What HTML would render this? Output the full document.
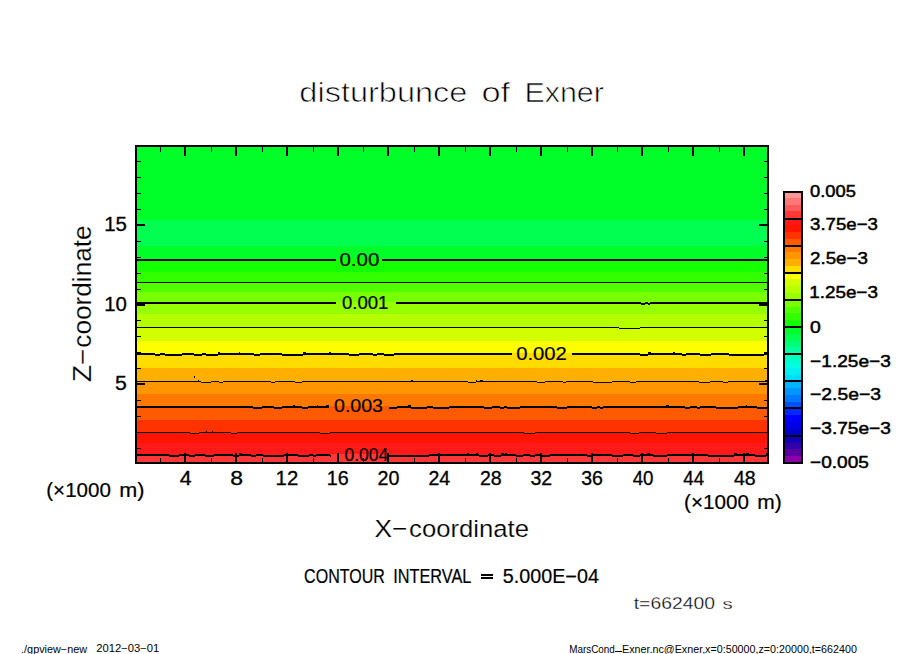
<!DOCTYPE html>
<html><head><meta charset="utf-8"><style>
html,body{margin:0;padding:0;background:#fff;}
svg{display:block;}
text{font-family:"Liberation Sans", sans-serif;fill:#000;}
</style></head><body>
<svg width="904" height="654" viewBox="0 0 904 654">
<rect width="904" height="654" fill="#fff"/>
<g shape-rendering="crispEdges">
<rect x="137" y="147" width="630" height="73" fill="#00ff28"/>
<rect x="137" y="220" width="630" height="26" fill="#00ff50"/>
<rect x="137" y="246" width="630" height="13" fill="#00ff28"/>
<rect x="137" y="259" width="630" height="13" fill="#14ff00"/>
<rect x="137" y="272" width="630" height="10" fill="#32ff00"/>
<rect x="137" y="282" width="630" height="10" fill="#50ff00"/>
<rect x="137" y="292" width="630" height="10" fill="#78ff00"/>
<rect x="137" y="302" width="630" height="12" fill="#96ff00"/>
<rect x="137" y="314" width="630" height="13" fill="#b4ff00"/>
<rect x="137" y="327" width="630" height="14" fill="#d2ff00"/>
<rect x="137" y="341" width="630" height="12" fill="#ffff00"/>
<rect x="137" y="353" width="630" height="15" fill="#ffdc00"/>
<rect x="137" y="368" width="630" height="13" fill="#ffaf00"/>
<rect x="137" y="381" width="630" height="13" fill="#ff9600"/>
<rect x="137" y="394" width="630" height="12" fill="#ff7800"/>
<rect x="137" y="406" width="630" height="14" fill="#ff5a00"/>
<rect x="137" y="420" width="630" height="12" fill="#ff3200"/>
<rect x="137" y="432" width="630" height="11" fill="#ff1400"/>
<rect x="137" y="443" width="630" height="11" fill="#ff1919"/>
<rect x="137" y="454" width="630" height="8" fill="#ff3737"/>
<rect x="137" y="259" width="199" height="2" fill="#000"/>
<rect x="382" y="259" width="385" height="2" fill="#000"/>
<rect x="137" y="282" width="630" height="1" fill="#000"/>
<rect x="137" y="302" width="199" height="2" fill="#000"/>
<rect x="396" y="302" width="371" height="2" fill="#000"/>
<rect x="641" y="302" width="4" height="1" fill="#78ff00"/>
<rect x="641" y="304" width="4" height="1" fill="#000"/>
<rect x="648" y="302" width="2" height="1" fill="#78ff00"/>
<rect x="648" y="304" width="2" height="1" fill="#000"/>
<rect x="137" y="327" width="630" height="1" fill="#000"/>
<rect x="619" y="327" width="6" height="1" fill="#b4ff00"/>
<rect x="619" y="328" width="6" height="1" fill="#000"/>
<rect x="625" y="327" width="9" height="1" fill="#b4ff00"/>
<rect x="625" y="328" width="9" height="1" fill="#000"/>
<rect x="634" y="327" width="6" height="1" fill="#b4ff00"/>
<rect x="634" y="328" width="6" height="1" fill="#000"/>
<rect x="137" y="353" width="375" height="2" fill="#000"/>
<rect x="155" y="353" width="5" height="1" fill="#ffff00"/>
<rect x="155" y="355" width="5" height="1" fill="#000"/>
<rect x="165" y="353" width="12" height="1" fill="#ffff00"/>
<rect x="165" y="355" width="12" height="1" fill="#000"/>
<rect x="177" y="353" width="5" height="1" fill="#ffff00"/>
<rect x="177" y="355" width="5" height="1" fill="#000"/>
<rect x="194" y="353" width="8" height="1" fill="#ffff00"/>
<rect x="194" y="355" width="8" height="1" fill="#000"/>
<rect x="206" y="353" width="12" height="1" fill="#ffff00"/>
<rect x="206" y="355" width="12" height="1" fill="#000"/>
<rect x="218" y="352" width="2" height="1" fill="#000"/>
<rect x="239" y="352" width="1" height="1" fill="#000"/>
<rect x="254" y="353" width="6" height="1" fill="#ffff00"/>
<rect x="254" y="355" width="6" height="1" fill="#000"/>
<rect x="282" y="353" width="4" height="1" fill="#ffff00"/>
<rect x="282" y="355" width="4" height="1" fill="#000"/>
<rect x="286" y="353" width="9" height="1" fill="#ffff00"/>
<rect x="286" y="355" width="9" height="1" fill="#000"/>
<rect x="295" y="353" width="8" height="1" fill="#ffff00"/>
<rect x="295" y="355" width="8" height="1" fill="#000"/>
<rect x="303" y="352" width="3" height="1" fill="#000"/>
<rect x="329" y="352" width="2" height="1" fill="#000"/>
<rect x="349" y="353" width="10" height="1" fill="#ffff00"/>
<rect x="349" y="355" width="10" height="1" fill="#000"/>
<rect x="373" y="353" width="4" height="1" fill="#ffff00"/>
<rect x="373" y="355" width="4" height="1" fill="#000"/>
<rect x="384" y="353" width="10" height="1" fill="#ffff00"/>
<rect x="384" y="355" width="10" height="1" fill="#000"/>
<rect x="572" y="353" width="195" height="2" fill="#000"/>
<rect x="640" y="353" width="8" height="1" fill="#ffff00"/>
<rect x="640" y="355" width="8" height="1" fill="#000"/>
<rect x="648" y="352" width="3" height="1" fill="#000"/>
<rect x="673" y="352" width="2" height="1" fill="#000"/>
<rect x="682" y="353" width="4" height="1" fill="#ffff00"/>
<rect x="682" y="355" width="4" height="1" fill="#000"/>
<rect x="700" y="353" width="11" height="1" fill="#ffff00"/>
<rect x="700" y="355" width="11" height="1" fill="#000"/>
<rect x="729" y="353" width="5" height="1" fill="#ffff00"/>
<rect x="729" y="355" width="5" height="1" fill="#000"/>
<rect x="734" y="353" width="5" height="1" fill="#ffff00"/>
<rect x="734" y="355" width="5" height="1" fill="#000"/>
<rect x="739" y="353" width="6" height="1" fill="#ffff00"/>
<rect x="739" y="355" width="6" height="1" fill="#000"/>
<rect x="745" y="353" width="12" height="1" fill="#ffff00"/>
<rect x="745" y="355" width="12" height="1" fill="#000"/>
<rect x="757" y="353" width="7" height="1" fill="#ffff00"/>
<rect x="757" y="355" width="7" height="1" fill="#000"/>
<rect x="137" y="381" width="630" height="1" fill="#000"/>
<rect x="198" y="380" width="1" height="1" fill="#000"/>
<rect x="201" y="381" width="10" height="1" fill="#ffaf00"/>
<rect x="201" y="382" width="10" height="1" fill="#000"/>
<rect x="219" y="381" width="4" height="1" fill="#ffaf00"/>
<rect x="219" y="382" width="4" height="1" fill="#000"/>
<rect x="271" y="381" width="4" height="1" fill="#ffaf00"/>
<rect x="271" y="382" width="4" height="1" fill="#000"/>
<rect x="295" y="381" width="7" height="1" fill="#ffaf00"/>
<rect x="295" y="382" width="7" height="1" fill="#000"/>
<rect x="411" y="380" width="2" height="1" fill="#000"/>
<rect x="468" y="381" width="8" height="1" fill="#ffaf00"/>
<rect x="468" y="382" width="8" height="1" fill="#000"/>
<rect x="476" y="380" width="1" height="1" fill="#000"/>
<rect x="480" y="380" width="3" height="1" fill="#000"/>
<rect x="537" y="381" width="8" height="1" fill="#ffaf00"/>
<rect x="537" y="382" width="8" height="1" fill="#000"/>
<rect x="563" y="381" width="3" height="1" fill="#ffaf00"/>
<rect x="563" y="382" width="3" height="1" fill="#000"/>
<rect x="593" y="381" width="8" height="1" fill="#ffaf00"/>
<rect x="593" y="382" width="8" height="1" fill="#000"/>
<rect x="601" y="381" width="11" height="1" fill="#ffaf00"/>
<rect x="601" y="382" width="11" height="1" fill="#000"/>
<rect x="630" y="381" width="6" height="1" fill="#ffaf00"/>
<rect x="630" y="382" width="6" height="1" fill="#000"/>
<rect x="699" y="381" width="11" height="1" fill="#ffaf00"/>
<rect x="699" y="382" width="11" height="1" fill="#000"/>
<rect x="723" y="381" width="5" height="1" fill="#ffaf00"/>
<rect x="723" y="382" width="5" height="1" fill="#000"/>
<rect x="765" y="380" width="2" height="1" fill="#000"/>
<rect x="137" y="406" width="192" height="2" fill="#000"/>
<rect x="253" y="406" width="9" height="1" fill="#ff7800"/>
<rect x="253" y="408" width="9" height="1" fill="#000"/>
<rect x="274" y="406" width="8" height="1" fill="#ff7800"/>
<rect x="274" y="408" width="8" height="1" fill="#000"/>
<rect x="293" y="405" width="2" height="1" fill="#000"/>
<rect x="302" y="406" width="6" height="1" fill="#ff7800"/>
<rect x="302" y="408" width="6" height="1" fill="#000"/>
<rect x="317" y="405" width="1" height="1" fill="#000"/>
<rect x="326" y="405" width="3" height="1" fill="#000"/>
<rect x="389" y="406" width="378" height="2" fill="#000"/>
<rect x="389" y="406" width="8" height="1" fill="#ff7800"/>
<rect x="389" y="408" width="8" height="1" fill="#000"/>
<rect x="408" y="405" width="3" height="1" fill="#000"/>
<rect x="411" y="406" width="12" height="1" fill="#ff7800"/>
<rect x="411" y="408" width="12" height="1" fill="#000"/>
<rect x="423" y="406" width="4" height="1" fill="#ff7800"/>
<rect x="423" y="408" width="4" height="1" fill="#000"/>
<rect x="433" y="406" width="4" height="1" fill="#ff7800"/>
<rect x="433" y="408" width="4" height="1" fill="#000"/>
<rect x="437" y="406" width="7" height="1" fill="#ff7800"/>
<rect x="437" y="408" width="7" height="1" fill="#000"/>
<rect x="444" y="406" width="5" height="1" fill="#ff7800"/>
<rect x="444" y="408" width="5" height="1" fill="#000"/>
<rect x="484" y="406" width="8" height="1" fill="#ff7800"/>
<rect x="484" y="408" width="8" height="1" fill="#000"/>
<rect x="500" y="406" width="4" height="1" fill="#ff7800"/>
<rect x="500" y="408" width="4" height="1" fill="#000"/>
<rect x="507" y="406" width="7" height="1" fill="#ff7800"/>
<rect x="507" y="408" width="7" height="1" fill="#000"/>
<rect x="514" y="406" width="6" height="1" fill="#ff7800"/>
<rect x="514" y="408" width="6" height="1" fill="#000"/>
<rect x="557" y="406" width="5" height="1" fill="#ff7800"/>
<rect x="557" y="408" width="5" height="1" fill="#000"/>
<rect x="562" y="406" width="5" height="1" fill="#ff7800"/>
<rect x="562" y="408" width="5" height="1" fill="#000"/>
<rect x="592" y="406" width="5" height="1" fill="#ff7800"/>
<rect x="592" y="408" width="5" height="1" fill="#000"/>
<rect x="600" y="406" width="3" height="1" fill="#ff7800"/>
<rect x="600" y="408" width="3" height="1" fill="#000"/>
<rect x="666" y="405" width="3" height="1" fill="#000"/>
<rect x="685" y="406" width="5" height="1" fill="#ff7800"/>
<rect x="685" y="408" width="5" height="1" fill="#000"/>
<rect x="697" y="406" width="3" height="1" fill="#ff7800"/>
<rect x="697" y="408" width="3" height="1" fill="#000"/>
<rect x="716" y="406" width="7" height="1" fill="#ff7800"/>
<rect x="716" y="408" width="7" height="1" fill="#000"/>
<rect x="723" y="406" width="5" height="1" fill="#ff7800"/>
<rect x="723" y="408" width="5" height="1" fill="#000"/>
<rect x="728" y="406" width="10" height="1" fill="#ff7800"/>
<rect x="728" y="408" width="10" height="1" fill="#000"/>
<rect x="746" y="405" width="1" height="1" fill="#000"/>
<rect x="757" y="406" width="7" height="1" fill="#ff7800"/>
<rect x="757" y="408" width="7" height="1" fill="#000"/>
<rect x="764" y="406" width="3" height="1" fill="#ff7800"/>
<rect x="764" y="408" width="3" height="1" fill="#000"/>
<rect x="137" y="432" width="630" height="1" fill="#000"/>
<rect x="190" y="432" width="9" height="1" fill="#ff3200"/>
<rect x="190" y="433" width="9" height="1" fill="#000"/>
<rect x="206" y="431" width="1" height="1" fill="#000"/>
<rect x="212" y="431" width="1" height="1" fill="#000"/>
<rect x="231" y="432" width="6" height="1" fill="#ff3200"/>
<rect x="231" y="433" width="6" height="1" fill="#000"/>
<rect x="320" y="432" width="10" height="1" fill="#ff3200"/>
<rect x="320" y="433" width="10" height="1" fill="#000"/>
<rect x="524" y="432" width="11" height="1" fill="#ff3200"/>
<rect x="524" y="433" width="11" height="1" fill="#000"/>
<rect x="630" y="432" width="6" height="1" fill="#ff3200"/>
<rect x="630" y="433" width="6" height="1" fill="#000"/>
<rect x="636" y="432" width="3" height="1" fill="#ff3200"/>
<rect x="636" y="433" width="3" height="1" fill="#000"/>
<rect x="656" y="432" width="11" height="1" fill="#ff3200"/>
<rect x="656" y="433" width="11" height="1" fill="#000"/>
<rect x="137" y="454" width="194" height="2" fill="#000"/>
<rect x="169" y="454" width="10" height="1" fill="#ff1919"/>
<rect x="169" y="456" width="10" height="1" fill="#000"/>
<rect x="189" y="454" width="6" height="1" fill="#ff1919"/>
<rect x="189" y="456" width="6" height="1" fill="#000"/>
<rect x="205" y="454" width="9" height="1" fill="#ff1919"/>
<rect x="205" y="456" width="9" height="1" fill="#000"/>
<rect x="233" y="454" width="6" height="1" fill="#ff1919"/>
<rect x="233" y="456" width="6" height="1" fill="#000"/>
<rect x="239" y="453" width="3" height="1" fill="#000"/>
<rect x="251" y="454" width="5" height="1" fill="#ff1919"/>
<rect x="251" y="456" width="5" height="1" fill="#000"/>
<rect x="263" y="454" width="10" height="1" fill="#ff1919"/>
<rect x="263" y="456" width="10" height="1" fill="#000"/>
<rect x="273" y="454" width="11" height="1" fill="#ff1919"/>
<rect x="273" y="456" width="11" height="1" fill="#000"/>
<rect x="298" y="454" width="11" height="1" fill="#ff1919"/>
<rect x="298" y="456" width="11" height="1" fill="#000"/>
<rect x="313" y="454" width="3" height="1" fill="#ff1919"/>
<rect x="313" y="456" width="3" height="1" fill="#000"/>
<rect x="330" y="454" width="1" height="1" fill="#ff1919"/>
<rect x="330" y="456" width="1" height="1" fill="#000"/>
<rect x="389" y="454" width="378" height="2" fill="#000"/>
<rect x="389" y="454" width="6" height="1" fill="#ff1919"/>
<rect x="389" y="456" width="6" height="1" fill="#000"/>
<rect x="395" y="454" width="4" height="1" fill="#ff1919"/>
<rect x="395" y="456" width="4" height="1" fill="#000"/>
<rect x="399" y="454" width="11" height="1" fill="#ff1919"/>
<rect x="399" y="456" width="11" height="1" fill="#000"/>
<rect x="410" y="454" width="8" height="1" fill="#ff1919"/>
<rect x="410" y="456" width="8" height="1" fill="#000"/>
<rect x="418" y="454" width="11" height="1" fill="#ff1919"/>
<rect x="418" y="456" width="11" height="1" fill="#000"/>
<rect x="439" y="453" width="1" height="1" fill="#000"/>
<rect x="467" y="453" width="2" height="1" fill="#000"/>
<rect x="476" y="453" width="2" height="1" fill="#000"/>
<rect x="479" y="454" width="9" height="1" fill="#ff1919"/>
<rect x="479" y="456" width="9" height="1" fill="#000"/>
<rect x="494" y="454" width="7" height="1" fill="#ff1919"/>
<rect x="494" y="456" width="7" height="1" fill="#000"/>
<rect x="501" y="453" width="3" height="1" fill="#000"/>
<rect x="505" y="453" width="2" height="1" fill="#000"/>
<rect x="516" y="454" width="7" height="1" fill="#ff1919"/>
<rect x="516" y="456" width="7" height="1" fill="#000"/>
<rect x="530" y="454" width="5" height="1" fill="#ff1919"/>
<rect x="530" y="456" width="5" height="1" fill="#000"/>
<rect x="542" y="454" width="8" height="1" fill="#ff1919"/>
<rect x="542" y="456" width="8" height="1" fill="#000"/>
<rect x="587" y="454" width="4" height="1" fill="#ff1919"/>
<rect x="587" y="456" width="4" height="1" fill="#000"/>
<rect x="612" y="454" width="11" height="1" fill="#ff1919"/>
<rect x="612" y="456" width="11" height="1" fill="#000"/>
<rect x="633" y="454" width="7" height="1" fill="#ff1919"/>
<rect x="633" y="456" width="7" height="1" fill="#000"/>
<rect x="647" y="453" width="3" height="1" fill="#000"/>
<rect x="653" y="454" width="9" height="1" fill="#ff1919"/>
<rect x="653" y="456" width="9" height="1" fill="#000"/>
<rect x="662" y="454" width="5" height="1" fill="#ff1919"/>
<rect x="662" y="456" width="5" height="1" fill="#000"/>
<rect x="708" y="454" width="11" height="1" fill="#ff1919"/>
<rect x="708" y="456" width="11" height="1" fill="#000"/>
<rect x="719" y="454" width="4" height="1" fill="#ff1919"/>
<rect x="719" y="456" width="4" height="1" fill="#000"/>
<rect x="723" y="454" width="11" height="1" fill="#ff1919"/>
<rect x="723" y="456" width="11" height="1" fill="#000"/>
<rect x="734" y="453" width="3" height="1" fill="#000"/>
<rect x="746" y="453" width="3" height="1" fill="#000"/>
<rect x="755" y="454" width="11" height="1" fill="#ff1919"/>
<rect x="755" y="456" width="11" height="1" fill="#000"/>
<rect x="766" y="453" width="1" height="1" fill="#000"/>
<rect x="160" y="147" width="1" height="5" fill="#000"/>
<rect x="160" y="458" width="1" height="4" fill="#000"/>
<rect x="184" y="147" width="2" height="9" fill="#000"/>
<rect x="184" y="453" width="2" height="9" fill="#000"/>
<rect x="211" y="147" width="1" height="5" fill="#000"/>
<rect x="211" y="458" width="1" height="4" fill="#000"/>
<rect x="235" y="147" width="2" height="9" fill="#000"/>
<rect x="235" y="453" width="2" height="9" fill="#000"/>
<rect x="262" y="147" width="1" height="5" fill="#000"/>
<rect x="262" y="458" width="1" height="4" fill="#000"/>
<rect x="286" y="147" width="2" height="9" fill="#000"/>
<rect x="286" y="453" width="2" height="9" fill="#000"/>
<rect x="313" y="147" width="1" height="5" fill="#000"/>
<rect x="313" y="458" width="1" height="4" fill="#000"/>
<rect x="337" y="147" width="2" height="9" fill="#000"/>
<rect x="337" y="453" width="2" height="9" fill="#000"/>
<rect x="363" y="147" width="1" height="5" fill="#000"/>
<rect x="363" y="458" width="1" height="4" fill="#000"/>
<rect x="387" y="147" width="2" height="9" fill="#000"/>
<rect x="387" y="453" width="2" height="9" fill="#000"/>
<rect x="414" y="147" width="1" height="5" fill="#000"/>
<rect x="414" y="458" width="1" height="4" fill="#000"/>
<rect x="438" y="147" width="2" height="9" fill="#000"/>
<rect x="438" y="453" width="2" height="9" fill="#000"/>
<rect x="465" y="147" width="1" height="5" fill="#000"/>
<rect x="465" y="458" width="1" height="4" fill="#000"/>
<rect x="489" y="147" width="2" height="9" fill="#000"/>
<rect x="489" y="453" width="2" height="9" fill="#000"/>
<rect x="516" y="147" width="1" height="5" fill="#000"/>
<rect x="516" y="458" width="1" height="4" fill="#000"/>
<rect x="540" y="147" width="2" height="9" fill="#000"/>
<rect x="540" y="453" width="2" height="9" fill="#000"/>
<rect x="567" y="147" width="1" height="5" fill="#000"/>
<rect x="567" y="458" width="1" height="4" fill="#000"/>
<rect x="591" y="147" width="2" height="9" fill="#000"/>
<rect x="591" y="453" width="2" height="9" fill="#000"/>
<rect x="617" y="147" width="1" height="5" fill="#000"/>
<rect x="617" y="458" width="1" height="4" fill="#000"/>
<rect x="641" y="147" width="2" height="9" fill="#000"/>
<rect x="641" y="453" width="2" height="9" fill="#000"/>
<rect x="668" y="147" width="1" height="5" fill="#000"/>
<rect x="668" y="458" width="1" height="4" fill="#000"/>
<rect x="692" y="147" width="2" height="9" fill="#000"/>
<rect x="692" y="453" width="2" height="9" fill="#000"/>
<rect x="719" y="147" width="1" height="5" fill="#000"/>
<rect x="719" y="458" width="1" height="4" fill="#000"/>
<rect x="743" y="147" width="2" height="9" fill="#000"/>
<rect x="743" y="453" width="2" height="9" fill="#000"/>
<rect x="137" y="448" width="4" height="1" fill="#000"/>
<rect x="764" y="448" width="3" height="1" fill="#000"/>
<rect x="137" y="432" width="4" height="1" fill="#000"/>
<rect x="764" y="432" width="3" height="1" fill="#000"/>
<rect x="137" y="416" width="4" height="1" fill="#000"/>
<rect x="764" y="416" width="3" height="1" fill="#000"/>
<rect x="137" y="400" width="4" height="1" fill="#000"/>
<rect x="764" y="400" width="3" height="1" fill="#000"/>
<rect x="137" y="383" width="8" height="2" fill="#000"/>
<rect x="759" y="383" width="8" height="2" fill="#000"/>
<rect x="137" y="368" width="4" height="1" fill="#000"/>
<rect x="764" y="368" width="3" height="1" fill="#000"/>
<rect x="137" y="352" width="4" height="1" fill="#000"/>
<rect x="764" y="352" width="3" height="1" fill="#000"/>
<rect x="137" y="336" width="4" height="1" fill="#000"/>
<rect x="764" y="336" width="3" height="1" fill="#000"/>
<rect x="137" y="320" width="4" height="1" fill="#000"/>
<rect x="764" y="320" width="3" height="1" fill="#000"/>
<rect x="137" y="304" width="8" height="2" fill="#000"/>
<rect x="759" y="304" width="8" height="2" fill="#000"/>
<rect x="137" y="289" width="4" height="1" fill="#000"/>
<rect x="764" y="289" width="3" height="1" fill="#000"/>
<rect x="137" y="273" width="4" height="1" fill="#000"/>
<rect x="764" y="273" width="3" height="1" fill="#000"/>
<rect x="137" y="257" width="4" height="1" fill="#000"/>
<rect x="764" y="257" width="3" height="1" fill="#000"/>
<rect x="137" y="241" width="4" height="1" fill="#000"/>
<rect x="764" y="241" width="3" height="1" fill="#000"/>
<rect x="137" y="224" width="8" height="2" fill="#000"/>
<rect x="759" y="224" width="8" height="2" fill="#000"/>
<rect x="137" y="209" width="4" height="1" fill="#000"/>
<rect x="764" y="209" width="3" height="1" fill="#000"/>
<rect x="137" y="193" width="4" height="1" fill="#000"/>
<rect x="764" y="193" width="3" height="1" fill="#000"/>
<rect x="137" y="177" width="4" height="1" fill="#000"/>
<rect x="764" y="177" width="3" height="1" fill="#000"/>
<rect x="137" y="161" width="4" height="1" fill="#000"/>
<rect x="764" y="161" width="3" height="1" fill="#000"/>
<rect x="194" y="376" width="1" height="2" fill="#000"/>
<rect x="615" y="651" width="7" height="1" fill="#000"/>
<rect x="481" y="574" width="12" height="2" fill="#000"/>
<rect x="481" y="577" width="12" height="2" fill="#000"/>
<rect x="135" y="145" width="634" height="2" fill="#000"/>
<rect x="135" y="462" width="634" height="2" fill="#000"/>
<rect x="135" y="145" width="2" height="319" fill="#000"/>
<rect x="767" y="145" width="2" height="319" fill="#000"/>
<rect x="785" y="191.00" width="16" height="7.10" fill="#ff9696"/>
<rect x="785" y="197.80" width="16" height="7.10" fill="#ff7878"/>
<rect x="785" y="204.60" width="16" height="7.10" fill="#ff5a5a"/>
<rect x="785" y="211.40" width="16" height="7.10" fill="#ff3737"/>
<rect x="785" y="218.20" width="16" height="7.10" fill="#ff1919"/>
<rect x="785" y="225.00" width="16" height="7.10" fill="#ff1400"/>
<rect x="785" y="231.80" width="16" height="7.10" fill="#ff3200"/>
<rect x="785" y="238.60" width="16" height="7.10" fill="#ff5a00"/>
<rect x="785" y="245.40" width="16" height="7.10" fill="#ff7800"/>
<rect x="785" y="252.20" width="16" height="7.10" fill="#ff9600"/>
<rect x="785" y="259.00" width="16" height="7.10" fill="#ffaf00"/>
<rect x="785" y="265.80" width="16" height="7.10" fill="#ffdc00"/>
<rect x="785" y="272.60" width="16" height="7.10" fill="#ffff00"/>
<rect x="785" y="279.40" width="16" height="7.10" fill="#d2ff00"/>
<rect x="785" y="286.20" width="16" height="7.10" fill="#b4ff00"/>
<rect x="785" y="293.00" width="16" height="7.10" fill="#96ff00"/>
<rect x="785" y="299.80" width="16" height="7.10" fill="#78ff00"/>
<rect x="785" y="306.60" width="16" height="7.10" fill="#50ff00"/>
<rect x="785" y="313.40" width="16" height="7.10" fill="#32ff00"/>
<rect x="785" y="320.20" width="16" height="7.10" fill="#14ff00"/>
<rect x="785" y="327.00" width="16" height="7.10" fill="#00ff28"/>
<rect x="785" y="333.80" width="16" height="7.10" fill="#00ff50"/>
<rect x="785" y="340.60" width="16" height="7.10" fill="#00ff78"/>
<rect x="785" y="347.40" width="16" height="7.10" fill="#00ffa0"/>
<rect x="785" y="354.20" width="16" height="7.10" fill="#00ffbe"/>
<rect x="785" y="361.00" width="16" height="7.10" fill="#00ffdc"/>
<rect x="785" y="367.80" width="16" height="7.10" fill="#00f0f0"/>
<rect x="785" y="374.60" width="16" height="7.10" fill="#00dcff"/>
<rect x="785" y="381.40" width="16" height="7.10" fill="#00b4ff"/>
<rect x="785" y="388.20" width="16" height="7.10" fill="#0096ff"/>
<rect x="785" y="395.00" width="16" height="7.10" fill="#0078ff"/>
<rect x="785" y="401.80" width="16" height="7.10" fill="#0050ff"/>
<rect x="785" y="408.60" width="16" height="7.10" fill="#0028ff"/>
<rect x="785" y="415.40" width="16" height="7.10" fill="#0000ff"/>
<rect x="785" y="422.20" width="16" height="7.10" fill="#0000e6"/>
<rect x="785" y="429.00" width="16" height="7.10" fill="#0000c8"/>
<rect x="785" y="435.80" width="16" height="7.10" fill="#1400b4"/>
<rect x="785" y="442.60" width="16" height="7.10" fill="#3200aa"/>
<rect x="785" y="449.40" width="16" height="7.10" fill="#5a00a0"/>
<rect x="785" y="456.20" width="16" height="7.10" fill="#8c00aa"/>
<rect x="785" y="218" width="16" height="2" fill="#000"/>
<rect x="785" y="245" width="16" height="2" fill="#000"/>
<rect x="785" y="272" width="16" height="2" fill="#000"/>
<rect x="785" y="299" width="16" height="2" fill="#000"/>
<rect x="785" y="326" width="16" height="2" fill="#000"/>
<rect x="785" y="353" width="16" height="2" fill="#000"/>
<rect x="785" y="380" width="16" height="2" fill="#000"/>
<rect x="785" y="407" width="16" height="2" fill="#000"/>
<rect x="785" y="435" width="16" height="2" fill="#000"/>
<rect x="783" y="191" width="20" height="2" fill="#000"/>
<rect x="783" y="462" width="20" height="2" fill="#000"/>
<rect x="783" y="191" width="2" height="273" fill="#000"/>
<rect x="801" y="191" width="2" height="273" fill="#000"/>
</g>
<g>
<text x="104.20" y="231.00" font-size="19.50" textLength="22.72" lengthAdjust="spacingAndGlyphs" stroke="#000" stroke-width="0.3">15</text>
<text x="104.20" y="311.00" font-size="19.50" textLength="22.72" lengthAdjust="spacingAndGlyphs" stroke="#000" stroke-width="0.3">10</text>
<text x="115.10" y="390.00" font-size="19.50" textLength="11.82" lengthAdjust="spacingAndGlyphs" stroke="#000" stroke-width="0.3">5</text>
<text x="810.10" y="197.00" font-size="17.00" textLength="45.80" lengthAdjust="spacingAndGlyphs" stroke="#000" stroke-width="0.5">0.005</text>
<text x="810.10" y="230.02" font-size="17.00" textLength="67.80" lengthAdjust="spacingAndGlyphs" stroke="#000" stroke-width="0.5">3.75e−3</text>
<text x="810.10" y="264.02" font-size="17.00" textLength="57.80" lengthAdjust="spacingAndGlyphs" stroke="#000" stroke-width="0.5">2.5e−3</text>
<text x="809.20" y="298.02" font-size="17.00" textLength="68.70" lengthAdjust="spacingAndGlyphs" stroke="#000" stroke-width="0.5">1.25e−3</text>
<text x="810.10" y="332.50" font-size="17.00" textLength="10.80" lengthAdjust="spacingAndGlyphs" stroke="#000" stroke-width="0.5">0</text>
<text x="810.10" y="366.54" font-size="17.00" textLength="80.80" lengthAdjust="spacingAndGlyphs" stroke="#000" stroke-width="0.5">−1.25e−3</text>
<text x="810.10" y="399.54" font-size="17.00" textLength="70.80" lengthAdjust="spacingAndGlyphs" stroke="#000" stroke-width="0.5">−2.5e−3</text>
<text x="810.10" y="434.02" font-size="17.00" textLength="80.80" lengthAdjust="spacingAndGlyphs" stroke="#000" stroke-width="0.5">−3.75e−3</text>
<text x="810.10" y="467.54" font-size="17.00" textLength="58.80" lengthAdjust="spacingAndGlyphs" stroke="#000" stroke-width="0.5">−0.005</text>
<text x="179.74" y="485.00" font-size="19.50" textLength="11.86" lengthAdjust="spacingAndGlyphs" stroke="#000" stroke-width="0.3">4</text>
<text x="230.37" y="485.00" font-size="19.50" textLength="12.76" lengthAdjust="spacingAndGlyphs" stroke="#000" stroke-width="0.3">8</text>
<text x="275.61" y="485.00" font-size="19.50" textLength="22.62" lengthAdjust="spacingAndGlyphs" stroke="#000" stroke-width="0.3">12</text>
<text x="428.38" y="485.00" font-size="19.50" textLength="21.72" lengthAdjust="spacingAndGlyphs" stroke="#000" stroke-width="0.3">24</text>
<text x="479.91" y="485.00" font-size="19.50" textLength="21.72" lengthAdjust="spacingAndGlyphs" stroke="#000" stroke-width="0.3">28</text>
<text x="530.53" y="485.00" font-size="19.50" textLength="21.72" lengthAdjust="spacingAndGlyphs" stroke="#000" stroke-width="0.3">32</text>
<text x="581.16" y="485.00" font-size="19.50" textLength="21.72" lengthAdjust="spacingAndGlyphs" stroke="#000" stroke-width="0.3">36</text>
<text x="632.68" y="485.00" font-size="19.50" textLength="20.82" lengthAdjust="spacingAndGlyphs" stroke="#000" stroke-width="0.3">40</text>
<text x="683.30" y="485.00" font-size="19.50" textLength="20.82" lengthAdjust="spacingAndGlyphs" stroke="#000" stroke-width="0.3">44</text>
<text x="733.93" y="485.00" font-size="19.50" textLength="21.72" lengthAdjust="spacingAndGlyphs" stroke="#000" stroke-width="0.3">48</text>
<text x="339.40" y="265.60" font-size="18.80" textLength="39.90" lengthAdjust="spacingAndGlyphs" stroke="#000" stroke-width="0.2">0.00</text>
<text x="341.90" y="309.00" font-size="18.80" textLength="46.50" lengthAdjust="spacingAndGlyphs" stroke="#000" stroke-width="0.2">0.001</text>
<text x="516.20" y="359.90" font-size="18.80" textLength="50.70" lengthAdjust="spacingAndGlyphs" stroke="#000" stroke-width="0.2">0.002</text>
<text x="334.00" y="412.40" font-size="18.80" textLength="49.00" lengthAdjust="spacingAndGlyphs" stroke="#000" stroke-width="0.2">0.003</text>
<text x="344.40" y="461.40" font-size="18.80" textLength="43.90" lengthAdjust="spacingAndGlyphs" stroke="#000" stroke-width="0.2">0.004</text>
<text x="326.88" y="485.00" font-size="19.50" textLength="21.90" lengthAdjust="spacingAndGlyphs" stroke="#000" stroke-width="0.3">16</text>
<text x="377.58" y="485.00" font-size="19.50" textLength="21.90" lengthAdjust="spacingAndGlyphs" stroke="#000" stroke-width="0.3">20</text>
<text x="299.36" y="102.00" font-size="28.50" textLength="168.00" lengthAdjust="spacingAndGlyphs" stroke="#fff" stroke-width="0.7">disturbunce</text>
<text x="481.48" y="101.64" font-size="28.50" textLength="28.70" lengthAdjust="spacingAndGlyphs" stroke="#fff" stroke-width="0.7">of</text>
<text x="524.40" y="102.00" font-size="28.50" textLength="79.50" lengthAdjust="spacingAndGlyphs" stroke="#fff" stroke-width="0.7">Exner</text>
<text x="633.76" y="609.08" font-size="16.86" textLength="81.14" lengthAdjust="spacingAndGlyphs" stroke="#fff" stroke-width="0.3">t=662400</text>
<text x="722.44" y="609.08" font-size="15.50" textLength="10.20" lengthAdjust="spacingAndGlyphs" stroke="#fff" stroke-width="0.3">s</text>
<text x="21.10" y="652.72" font-size="10.00" textLength="65.90" lengthAdjust="spacingAndGlyphs">./gpview−new</text>
<text x="96.18" y="652.08" font-size="10.00" textLength="63.14" lengthAdjust="spacingAndGlyphs">2012−03−01</text>
<text x="304.10" y="583.00" font-size="19.50" textLength="80.80" lengthAdjust="spacingAndGlyphs" stroke="#000" stroke-width="0.2">CONTOUR</text>
<text x="393.20" y="583.00" font-size="19.50" textLength="78.14" lengthAdjust="spacingAndGlyphs" stroke="#000" stroke-width="0.2">INTERVAL</text>
<text x="502.76" y="583.00" font-size="19.50" textLength="96.14" lengthAdjust="spacingAndGlyphs" stroke="#000" stroke-width="0.2">5.000E−04</text>
<text x="46.28" y="496.90" font-size="19.50" textLength="64.62" lengthAdjust="spacingAndGlyphs" stroke="#000" stroke-width="0.2">(×1000</text>
<text x="119.28" y="496.90" font-size="19.50" textLength="25.20" lengthAdjust="spacingAndGlyphs" stroke="#000" stroke-width="0.2">m)</text>
<text x="684.10" y="508.80" font-size="19.50" textLength="64.88" lengthAdjust="spacingAndGlyphs" stroke="#000" stroke-width="0.2">(×1000</text>
<text x="757.28" y="508.80" font-size="19.50" textLength="24.44" lengthAdjust="spacingAndGlyphs" stroke="#000" stroke-width="0.2">m)</text>
<text x="374.58" y="536.50" font-size="24.50" textLength="32.84" lengthAdjust="spacingAndGlyphs" stroke="#fff" stroke-width="0.2">X−</text>
<text x="409.10" y="536.50" font-size="24.50" textLength="119.94" lengthAdjust="spacingAndGlyphs" stroke="#fff" stroke-width="0.2">coordinate</text>
<text x="0" y="0" font-size="25.50" transform="translate(91.00,382.26) rotate(-90)" textLength="33.78" lengthAdjust="spacingAndGlyphs" stroke="#fff" stroke-width="0.2">Z−</text>
<text x="0" y="0" font-size="25.50" transform="translate(91.00,347.72) rotate(-90)" textLength="122.42" lengthAdjust="spacingAndGlyphs" stroke="#fff" stroke-width="0.2">coordinate</text>
<text x="569.18" y="653.10" font-size="10.00" textLength="45.64" lengthAdjust="spacingAndGlyphs">MarsCond</text>
<text x="622.10" y="653.10" font-size="10.00" textLength="234.80" lengthAdjust="spacingAndGlyphs">Exner.nc@Exner,x=0:50000,z=0:20000,t=662400</text>
</g>
</svg>
</body></html>
